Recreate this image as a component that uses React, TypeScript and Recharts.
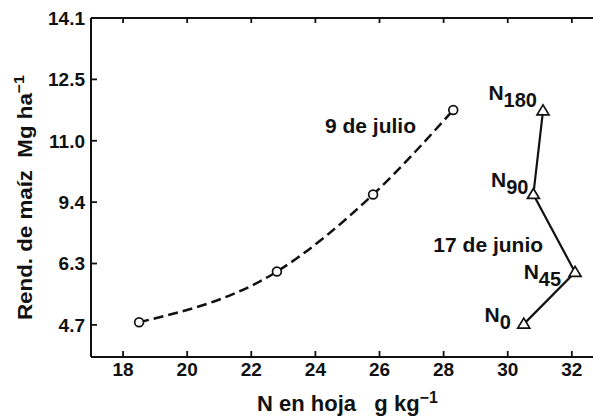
import {
  LineChart,
  Line,
  XAxis,
  YAxis,
  Label,
  ReferenceDot,
  ReferenceLine,
} from "recharts";

const FONT = '"Liberation Sans", Arial, Helvetica, sans-serif';
const INK = "#111";

// el eje Y original tiene marcas equiespaciadas con etiquetas no lineales
const yTickLabels = [4.7, 6.3, 9.4, 11.0, 12.5, 14.1];
const xTicks = [18, 20, 22, 24, 26, 28, 30, 32];

// 9 de julio (N en hoja g/kg, rendimiento Mg/ha)
const julioN = [18.5, 22.8, 25.8, 28.3];
const julioRend = [4.77, 6.09, 9.6, 11.75];

// 17 de junio
const junioN = [30.5, 32.1, 30.8, 31.1];
const junioRend = [4.72, 6.07, 9.6, 11.73];
const junioDosis = ["0", "45", "90", "180"];

// posición en el eje (índice de marca) a partir del rendimiento
function toAxis(v: number) {
  const t = yTickLabels;
  let i = 0;
  while (i < t.length - 2 && v > t[i + 1]) i++;
  return i + (v - t[i]) / (t[i + 1] - t[i]);
}

const Y_MIN = -0.523;
const Y_MAX = 5;

const W = 593;
const H = 417;
const TOP = 18;
const LEFT = 91;
const X_AXIS_H = 60;
const BOTTOM = H - X_AXIS_H;

const julioData = julioN.map((n, i) => ({ x: n, y: toAxis(julioRend[i]) }));
const junioData = junioN.map((n, i) => ({
  x: n,
  y: toAxis(junioRend[i]),
  dosis: junioDosis[i],
}));

// desplazamiento de las etiquetas N respecto a cada triángulo
const labelOffsets = [
  [-13, -2],
  [-14, 7],
  [-5, -7],
  [-6, -11],
];

const CircleDot = (props: any) => {
  const { cx, cy, index } = props;
  return (
    <circle
      key={`c-${index}`}
      cx={cx}
      cy={cy}
      r={4.4}
      fill="#fff"
      stroke={INK}
      strokeWidth={1.7}
    />
  );
};

const TriangleDot = (props: any) => {
  const { cx, cy, index, payload } = props;
  const [dx, dy] = labelOffsets[index];
  return (
    <g key={`t-${index}`}>
      <polygon
        points={`${cx},${cy - 6} ${cx - 6},${cy + 4} ${cx + 6},${cy + 4}`}
        fill="#fff"
        stroke={INK}
        strokeWidth={1.7}
      />
      <text
        x={cx + dx}
        y={cy + dy}
        textAnchor="end"
        fontFamily={FONT}
        fontWeight="bold"
        fill={INK}
      >
        <tspan fontSize={21}>N</tspan>
        <tspan fontSize={20} dy={7}>
          {payload.dosis}
        </tspan>
      </text>
    </g>
  );
};

const noteLabel = (text: string) => (props: any) => {
  const { viewBox } = props;
  return (
    <text
      x={viewBox.x}
      y={viewBox.y}
      fontFamily={FONT}
      fontWeight="bold"
      fontSize={21}
      fill={INK}
    >
      {text}
    </text>
  );
};

const XTitle = () => (
  <text
    x={257}
    y={411}
    fontFamily={FONT}
    fontWeight="bold"
    fontSize={22}
    fill={INK}
  >
    N en hoja{"\u00a0\u00a0\u00a0"}g kg
    <tspan dy={-8} fontSize={16}>
      −1
    </tspan>
  </text>
);

const YTitle = () => (
  <text
    x={0}
    y={0}
    transform="translate(32, 320) rotate(-90)"
    fontFamily={FONT}
    fontWeight="bold"
    fontSize={21}
    textLength={245}
    lengthAdjust="spacingAndGlyphs"
    fill={INK}
  >
    Rend. de maíz{"\u00a0\u00a0"}Mg ha
    <tspan dy={-8} fontSize={15}>
      −1
    </tspan>
  </text>
);

// marcas hacia dentro, abajo y en el marco superior
const XTick = (props: any) => {
  const { x, y, payload } = props;
  return (
    <g>
      <line x1={x} x2={x} y1={BOTTOM} y2={BOTTOM - 6} stroke={INK} strokeWidth={1.8} />
      <line x1={x} x2={x} y1={TOP} y2={TOP + 5} stroke={INK} strokeWidth={1.8} />
      <text
        x={x}
        y={y}
        dy="0.71em"
        textAnchor="middle"
        fontFamily={FONT}
        fontWeight="bold"
        fontSize={19}
        fill={INK}
      >
        {payload.value}
      </text>
    </g>
  );
};

const YTick = (props: any) => {
  const { x, y, payload } = props;
  return (
    <g>
      <line x1={LEFT} x2={LEFT + 6} y1={y} y2={y} stroke={INK} strokeWidth={1.8} />
      <text
        x={x}
        y={y}
        dy="0.355em"
        textAnchor="end"
        fontFamily={FONT}
        fontWeight="bold"
        fontSize={19}
        fill={INK}
      >
        {yTickLabels[payload.value].toFixed(1)}
      </text>
    </g>
  );
};

export default function App() {
  return (
    <div style={{ position: "absolute", left: 0, top: 0, background: "#fff" }}>
      <LineChart
        width={W}
        height={H}
        margin={{ top: TOP, right: 0, bottom: 0, left: 0 }}
      >
        <XAxis
          dataKey="x"
          type="number"
          domain={[17, 32.66]}
          ticks={xTicks}
          allowDataOverflow
          height={X_AXIS_H}
          stroke={INK}
          strokeWidth={2}
          tickLine={false}
          tickSize={0}
          tickMargin={6}
          tick={XTick}
        >
          <Label content={XTitle} />
        </XAxis>
        <YAxis
          dataKey="y"
          type="number"
          domain={[Y_MIN, Y_MAX]}
          ticks={[0, 1, 2, 3, 4, 5]}
          allowDataOverflow
          width={LEFT}
          stroke={INK}
          strokeWidth={2}
          tickLine={false}
          tickSize={0}
          tickMargin={6}
          tick={YTick}
        >
          <Label content={YTitle} />
        </YAxis>

        {/* marco superior */}
        <ReferenceLine y={Y_MAX} stroke={INK} strokeWidth={2} />

        <Line
          data={julioData}
          dataKey="y"
          type="monotone"
          stroke={INK}
          strokeWidth={2.5}
          strokeDasharray="10 5"
          dot={CircleDot}
          activeDot={false}
          isAnimationActive={false}
        />
        <Line
          data={junioData}
          dataKey="y"
          type="linear"
          stroke={INK}
          strokeWidth={2.2}
          dot={TriangleDot}
          activeDot={false}
          isAnimationActive={false}
        />
        <ReferenceDot
          x={24.3}
          y={toAxis(11.19)}
          r={0}
          stroke="none"
          label={noteLabel("9 de julio")}
        />
        <ReferenceDot
          x={27.68}
          y={toAxis(6.9)}
          r={0}
          stroke="none"
          label={noteLabel("17 de junio")}
        />
      </LineChart>
    </div>
  );
}
